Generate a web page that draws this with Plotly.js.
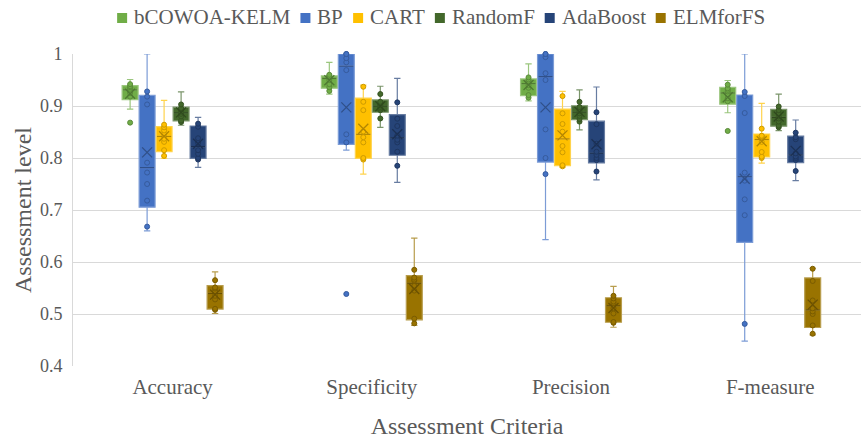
<!DOCTYPE html>
<html>
<head>
<meta charset="utf-8">
<script src="https://cdn.plot.ly/plotly-3.0.1.min.js"></script>
<style>
  html, body { margin: 0; padding: 0; background: #ffffff; }
  #chart { width: 861px; height: 439px; }
</style>
</head>
<body>
<div id="chart"></div>
<script>
// Assessment criteria on the horizontal axis and the compared models
const criteria = ['Accuracy', 'Specificity', 'Precision', 'F-measure'];
const models = ['bCOWOA-KELM', 'BP', 'CART', 'RandomF', 'AdaBoost', 'ELMforFS'];
const yTickValues = [0.4, 0.5, 0.6, 0.7, 0.8, 0.9, 1];

// Ten runs per model; one row per criterion (Accuracy, Specificity, Precision, F-measure)
const kelmRuns = [
  [0.868, 0.894, 0.918, 0.925, 0.929, 0.933, 0.936, 0.938, 0.942, 0.951],
  [0.923, 0.929, 0.936, 0.942, 0.950, 0.956, 0.957, 0.957, 0.960, 0.984],
  [0.910, 0.916, 0.921, 0.935, 0.940, 0.946, 0.948, 0.951, 0.955, 0.981],
  [0.852, 0.887, 0.909, 0.915, 0.922, 0.928, 0.931, 0.934, 0.941, 0.949]
];
const bpRuns = [
  [0.660, 0.668, 0.718, 0.750, 0.772, 0.791, 0.903, 0.918, 0.928, 1.000],
  [0.5385, 0.815, 0.830, 0.8455, 0.969, 0.984, 0.992, 1.000, 1.000, 1.000],
  [0.643, 0.769, 0.800, 0.855, 0.950, 0.963, 0.994, 1.000, 1.000, 1.000],
  [0.448, 0.481, 0.690, 0.7205, 0.7564, 0.7718, 0.8865, 0.9192, 0.927, 1.000]
];
const cartRuns = [
  [0.799, 0.804, 0.815, 0.831, 0.837, 0.846, 0.853, 0.859, 0.864, 0.911],
  [0.769, 0.797, 0.800, 0.830, 0.840, 0.851, 0.892, 0.908, 0.937, 0.940],
  [0.782, 0.784, 0.786, 0.811, 0.823, 0.8506, 0.8654, 0.8859, 0.919, 0.928],
  [0.790, 0.800, 0.8025, 0.8115, 0.831, 0.840, 0.842, 0.8428, 0.8564, 0.905]
];
const randomFRuns = [
  [0.863, 0.869, 0.872, 0.880, 0.885, 0.889, 0.893, 0.896, 0.903, 0.927],
  [0.859, 0.876, 0.892, 0.895, 0.898, 0.901, 0.904, 0.908, 0.923, 0.938],
  [0.854, 0.870, 0.875, 0.881, 0.886, 0.890, 0.894, 0.898, 0.908, 0.931],
  [0.8526, 0.859, 0.862, 0.870, 0.876, 0.880, 0.885, 0.892, 0.899, 0.923]
];
const adaBoostRuns = [
  [0.782, 0.797, 0.800, 0.808, 0.815, 0.829, 0.838, 0.860, 0.866, 0.878],
  [0.753, 0.785, 0.812, 0.830, 0.835, 0.843, 0.8615, 0.8756, 0.907, 0.953],
  [0.758, 0.774, 0.796, 0.800, 0.806, 0.812, 0.8275, 0.865, 0.888, 0.9365],
  [0.7564, 0.775, 0.7962, 0.800, 0.803, 0.809, 0.836, 0.840, 0.8487, 0.8731]
];
const elmRuns = [
  [0.501, 0.508, 0.510, 0.528, 0.535, 0.544, 0.549, 0.551, 0.565, 0.581],
  [0.478, 0.482, 0.491, 0.545, 0.554, 0.564, 0.566, 0.570, 0.585, 0.646],
  [0.4745, 0.483, 0.4845, 0.501, 0.511, 0.521, 0.524, 0.530, 0.535, 0.553],
  [0.460, 0.462, 0.478, 0.500, 0.505, 0.511, 0.526, 0.5635, 0.587, 0.588]
];

const seriesRuns = [kelmRuns, bpRuns, cartRuns, randomFRuns, adaBoostRuns, elmRuns];
const seriesColors = ['#70AD47', '#4472C4', '#FFC000', '#43682B', '#264478', '#997300'];

// ---- helpers -------------------------------------------------------------
function rgbParts(hex) {
  const n = parseInt(hex.slice(1), 16);
  return [n >> 16, (n >> 8) & 255, n & 255];
}
function tint(hex, f) {
  const [r, g, b] = rgbParts(hex).map(v => Math.round(v + (255 - v) * f));
  return `rgb(${r},${g},${b})`;
}
function shade(hex, f) {
  const [r, g, b] = rgbParts(hex).map(v => Math.round(v * (1 - f)));
  return `rgb(${r},${g},${b})`;
}
// Exclusive quartile (n+1 positioning)
function quantileExc(sorted, p) {
  const n = sorted.length;
  const pos = (n + 1) * p;
  const lo = Math.floor(pos);
  const frac = pos - lo;
  if (lo < 1) return sorted[0];
  if (lo >= n) return sorted[n - 1];
  return sorted[lo - 1] + frac * (sorted[lo] - sorted[lo - 1]);
}
function boxStats(values) {
  const s = values.slice().sort((a, b) => a - b);
  const q1 = quantileExc(s, 0.25);
  const med = quantileExc(s, 0.5);
  const q3 = quantileExc(s, 0.75);
  const iqr = q3 - q1;
  const lowLimit = q1 - 1.5 * iqr;
  const highLimit = q3 + 1.5 * iqr;
  const inside = s.filter(v => v >= lowLimit && v <= highLimit);
  const lo = inside[0];
  const hi = inside[inside.length - 1];
  // points shown: everything except one value sitting on each whisker end
  const shown = s.slice();
  shown.splice(shown.indexOf(lo), 1);
  shown.splice(shown.lastIndexOf(hi), 1);
  const mean = s.reduce((a, v) => a + v, 0) / s.length;
  return { q1, med, q3, lo, hi, shown, mean };
}

// ---- geometry of the grouped boxes (category units) ----------------------
const boxStep = 0.0853;   // distance between neighbouring boxes
const boxWidth = 0.08;
const half = boxWidth / 2;
const fontFamily = "'Liberation Serif', 'Times New Roman', serif";
const textGrey = '#595959';

const traces = [];
seriesRuns.forEach((runs, s) => {
  const color = seriesColors[s];
  const dark = shade(color, 0.3);
  const pointEdge = shade(color, 0.2);
  const light = tint(color, 0.3);
  const xs = criteria.map((_, c) => c + (s - (models.length - 1) / 2) * boxStep);
  const stats = runs.map(boxStats);

  traces.push({
    type: 'box',
    name: models[s],
    x: xs,
    q1: stats.map(t => t.q1),
    median: stats.map(t => t.med),
    q3: stats.map(t => t.q3),
    lowerfence: stats.map(t => t.lo),
    upperfence: stats.map(t => t.hi),
    width: boxWidth,
    whiskerwidth: 0.4,
    boxpoints: false,
    fillcolor: color,
    line: { color: light, width: 1.2 },
    hoverinfo: 'skip',
    showlegend: false
  });

  // median bars in a darker shade
  const mx = [], my = [];
  stats.forEach((t, c) => { mx.push(xs[c] - half + 0.004, xs[c] + half - 0.004, null); my.push(t.med, t.med, null); });
  traces.push({
    type: 'scatter', mode: 'lines', x: mx, y: my,
    line: { color: dark, width: 1.2 }, hoverinfo: 'skip', showlegend: false
  });

  // individual runs
  const px = [], py = [];
  stats.forEach((t, c) => t.shown.forEach(v => { px.push(xs[c]); py.push(v); }));
  traces.push({
    type: 'scatter', mode: 'markers', x: px, y: py, cliponaxis: false,
    marker: { symbol: 'circle', size: 5, color: color, line: { color: pointEdge, width: 1 } },
    hoverinfo: 'skip', showlegend: false
  });

  // mean markers
  traces.push({
    type: 'scatter', mode: 'markers', x: xs, y: stats.map(t => t.mean), cliponaxis: false,
    marker: { symbol: 'x-thin-open', size: 10, color: dark, line: { color: dark, width: 1.3 } },
    hoverinfo: 'skip', showlegend: false
  });
});

// ---- legend row: square swatch + name, laid out from measured text widths -
const plotLeft = 73, plotRight = 861, plotTop = 54, plotBottom = 366;
const plotW = plotRight - plotLeft, plotH = plotBottom - plotTop;
const toPaperX = px => (px - plotLeft) / plotW;
const toPaperY = py => (plotBottom - py) / plotH;

const legendFontSize = 21;
const ctx = document.createElement('canvas').getContext('2d');
ctx.font = `${legendFontSize}px 'Liberation Serif'`;
const swatch = 10, swatchGap = 6, itemGap = 11;
const nameWidths = models.map(m => ctx.measureText(m).width);
const legendWidth = nameWidths.reduce((a, w) => a + swatch + swatchGap + w, 0) + itemGap * (models.length - 1);
const legendMidY = 17;
let cursor = 440.5 - legendWidth / 2;

const shapes = [];
const annotations = [];
models.forEach((m, s) => {
  shapes.push({
    type: 'rect', xref: 'paper', yref: 'paper',
    x0: toPaperX(cursor), x1: toPaperX(cursor + swatch),
    y0: toPaperY(legendMidY + 1 + swatch / 2), y1: toPaperY(legendMidY + 1 - swatch / 2),
    fillcolor: seriesColors[s], line: { width: 0 }
  });
  cursor += swatch + swatchGap;
  annotations.push({
    xref: 'paper', yref: 'paper', x: toPaperX(cursor - 1), y: toPaperY(legendMidY),
    xanchor: 'left', yanchor: 'middle', showarrow: false, text: m,
    font: { family: fontFamily, size: legendFontSize, color: textGrey }
  });
  cursor += nameWidths[s] + itemGap;
});

const layout = {
  width: 861,
  height: 439,
  margin: { l: plotLeft, r: 861 - plotRight, t: plotTop, b: 439 - plotBottom },
  paper_bgcolor: '#ffffff',
  plot_bgcolor: '#ffffff',
  showlegend: false,
  boxmode: 'overlay',
  font: { family: fontFamily, color: textGrey },
  xaxis: {
    range: [-0.5, -0.5 + plotW / 199.2],
    tickmode: 'array',
    tickvals: criteria.map((_, i) => i),
    ticktext: criteria,
    showgrid: false,
    zeroline: false,
    showline: false,
    ticks: '',
    ticklabelstandoff: 6,
    tickfont: { family: fontFamily, size: 21, color: textGrey },
    title: { text: 'Assessment Criteria', font: { family: fontFamily, size: 24, color: textGrey }, standoff: 19 },
    automargin: false,
    fixedrange: true
  },
  yaxis: {
    range: [0.4, 1.0],
    tickmode: 'array',
    tickvals: yTickValues,
    ticktext: yTickValues.map(v => String(v)),
    showgrid: true,
    gridcolor: '#d9d9d9',
    gridwidth: 1,
    zeroline: false,
    showline: true,
    linecolor: '#d9d9d9',
    linewidth: 1,
    ticks: '',
    ticklabelstandoff: 6,
    tickfont: { family: fontFamily, size: 18, color: textGrey },
    title: { text: 'Assessment level', font: { family: fontFamily, size: 24, color: textGrey }, standoff: 1 },
    automargin: false,
    fixedrange: true
  },
  shapes: shapes,
  annotations: annotations
};

Plotly.newPlot('chart', traces, layout, { displayModeBar: false, staticPlot: true });
</script>
</body>
</html>
